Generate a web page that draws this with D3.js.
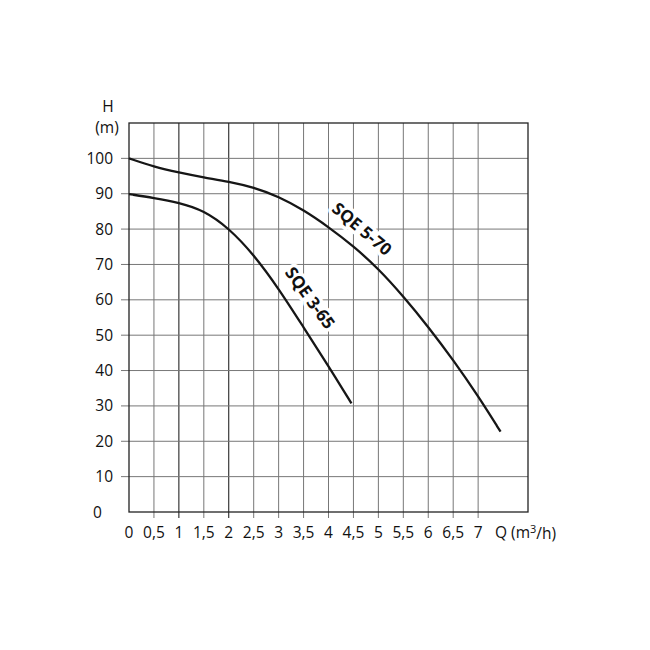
<!DOCTYPE html>
<html><head><meta charset="utf-8">
<script src="https://cdn.jsdelivr.net/npm/d3@7"></script>
<style>body{margin:0;background:#fff}svg{display:block}</style>
</head><body>
<script>
const xTicks = [0,0.5,1,1.5,2,2.5,3,3.5,4,4.5,5,5.5,6,6.5,7];
const xTickLabels = ["0","0,5","1","1,5","2","2,5","3","3,5","4","4,5","5","5,5","6","6,5","7"];
const yTicks = [0,10,20,30,40,50,60,70,80,90,100];
const sqe570Q = [0,0.5,1,1.5,2,2.5,3,3.5,4,4.5,5,5.5,6,6.5,7,7.45];
const sqe570H = [100,97.6,96,94.6,93.4,91.8,89.2,85.4,80.6,75.2,68.8,61,52.4,43,32.8,22.7];
const sqe365Q = [0,0.5,1,1.5,2,2.5,3,3.5,4,4.46];
const sqe365H = [89.9,88.8,87.5,85.3,80.3,72.8,63.2,52.2,41.3,30.7];
const seriesNames = ["SQE 5-70","SQE 3-65"];

const W=650,H=650;
const svg=d3.select("body").append("svg").attr("width",W).attr("height",H);
const x=d3.scaleLinear().domain([0,8]).range([129,528]);
const y=d3.scaleLinear().domain([0,110]).range([512,123]);
const font="'Open Sans', sans-serif";

svg.append("g").selectAll("line").data(xTicks.filter(d=>d>0)).join("line")
  .attr("x1",d=>x(d)).attr("x2",d=>x(d)).attr("y1",y(110)).attr("y2",y(0)+6)
  .attr("stroke",d=>(d===1||d===2)?"#111":"#777").attr("stroke-width",1);
svg.append("g").selectAll("line").data(yTicks.filter(d=>d>0)).join("line")
  .attr("x1",x(0)-8).attr("x2",x(8)).attr("y1",d=>y(d)).attr("y2",d=>y(d))
  .attr("stroke","#777").attr("stroke-width",1);
svg.append("rect").attr("x",x(0)).attr("y",y(110)).attr("width",x(8)-x(0)).attr("height",y(0)-y(110))
  .attr("fill","none").attr("stroke","#222").attr("stroke-width",1.3);

svg.append("g").selectAll("text").data(yTicks).join("text")
  .attr("x",d=>d===0?93:113).attr("y",d=>y(d)).attr("dy","0.36em")
  .attr("text-anchor",d=>d===0?"start":"end")
  .attr("font-family",font).attr("font-size",15.5).attr("fill","#111").text(d=>d);
svg.append("g").selectAll("text").data(xTicks).join("text")
  .attr("x",d=>x(d)).attr("y",532).attr("dy","0.36em").attr("text-anchor","middle")
  .attr("font-family",font).attr("font-size",15.5).attr("fill","#111").text((d,i)=>xTickLabels[i]);
const q=svg.append("text").attr("x",495).attr("y",532).attr("dy","0.36em")
  .attr("font-family",font).attr("font-size",15.5).attr("fill","#111");
q.append("tspan").text("Q (m");
q.append("tspan").attr("dy","-0.4em").attr("font-size",11).text("3");
q.append("tspan").attr("dy","0.4em").text("/h)");
svg.append("text").attr("x",108).attr("y",112).attr("text-anchor","middle")
  .attr("font-family",font).attr("font-size",15.5).attr("fill","#111").text("H");
svg.append("text").attr("x",107).attr("y",133).attr("text-anchor","middle")
  .attr("font-family",font).attr("font-size",15.5).attr("fill","#111").text("(m)");

const line=d3.line().x(d=>x(d[0])).y(d=>y(d[1])).curve(d3.curveBasis);
const s1=sqe570Q.map((v,i)=>[v,sqe570H[i]]);
const s2=sqe365Q.map((v,i)=>[v,sqe365H[i]]);
[s1,s2].forEach(s=>{
  svg.append("path").attr("d",line(s)).attr("fill","none").attr("stroke","#161616").attr("stroke-width",2.3);
});
function lab(txt,cx,cy,ang){
  svg.append("text").attr("transform",`translate(${cx},${cy}) rotate(${ang})`)
    .attr("text-anchor","middle").attr("dy","0.35em")
    .attr("font-family",font).attr("font-size",17).attr("font-weight","bold").attr("fill","#111")
    .attr("stroke","#fff").attr("stroke-width",7).attr("paint-order","stroke").attr("stroke-linejoin","round")
    .text(txt);
}
lab(seriesNames[0],362,229,40);
lab(seriesNames[1],310,298,54);
</script>
</body></html>
